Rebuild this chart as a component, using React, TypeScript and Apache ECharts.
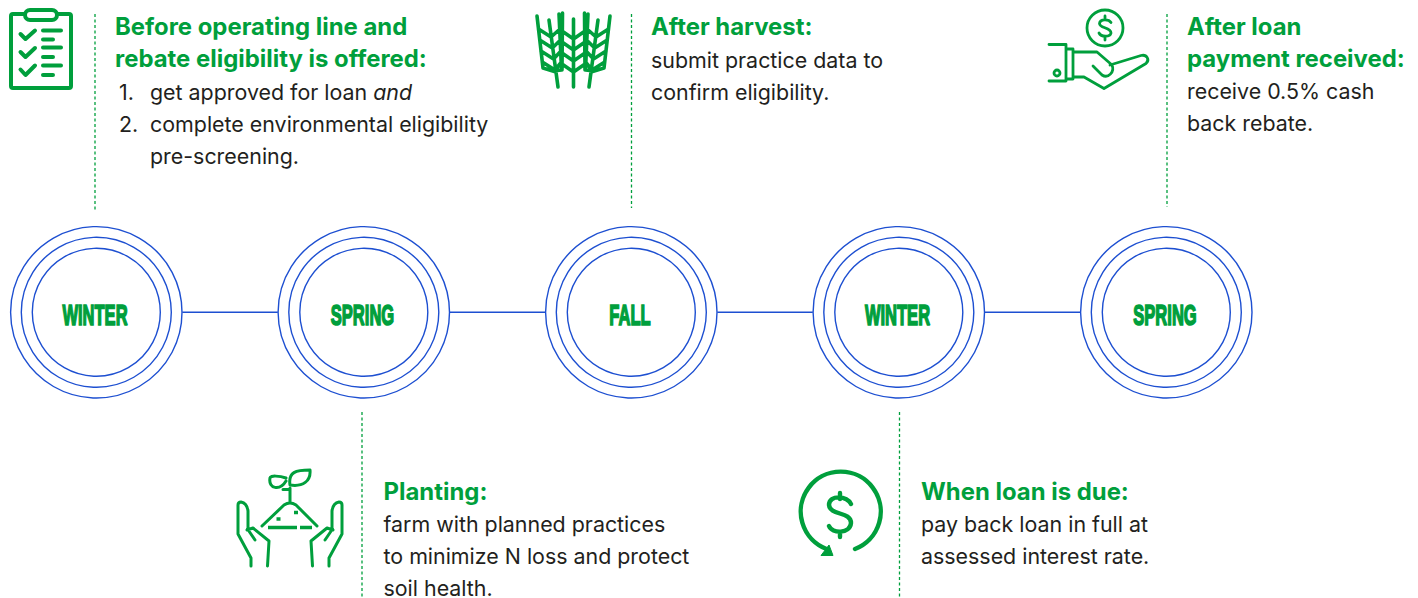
import React, { useEffect, useRef } from "react";
import * as echarts from "echarts";

const seasons = ["WINTER", "SPRING", "FALL", "WINTER", "SPRING"];
const GREEN = "#009f3c";
const BLUE = "#1d4fd1";
const FONT = "Inter, 'Open Sans', sans-serif";

type Line = { text: string; x: number; y: number; bold?: boolean };

const beforeLines: Line[] = [
  { text: "Before operating line and", x: 115, y: 26.5, bold: true },
  { text: "rebate eligibility is offered:", x: 115, y: 58.5, bold: true },
  { text: "1.", x: 119, y: 92 },
  { text: "2.", x: 119, y: 124 },
  { text: "complete environmental eligibility", x: 150, y: 124 },
  { text: "pre-screening.", x: 150, y: 156 },
];
const harvestLines: Line[] = [
  { text: "After harvest:", x: 651, y: 26.5, bold: true },
  { text: "submit practice data to", x: 651, y: 60 },
  { text: "confirm eligibility.", x: 651, y: 92 },
];
const rebateLines: Line[] = [
  { text: "After loan", x: 1187, y: 26.5, bold: true },
  { text: "payment received:", x: 1187, y: 58.5, bold: true },
  { text: "receive 0.5% cash", x: 1187, y: 91 },
  { text: "back rebate.", x: 1187, y: 123 },
];
const plantingLines: Line[] = [
  { text: "Planting:", x: 383.5, y: 491.5, bold: true },
  { text: "farm with planned practices", x: 383.5, y: 524 },
  { text: "to minimize N loss and protect", x: 383.5, y: 556 },
  { text: "soil health.", x: 383.5, y: 587.5 },
];
const dueLines: Line[] = [
  { text: "When loan is due:", x: 921, y: 491.5, bold: true },
  { text: "pay back loan in full at", x: 921, y: 524 },
  { text: "assessed interest rate.", x: 921, y: 556 },
];
const allLines = [...beforeLines, ...harvestLines, ...rebateLines, ...plantingLines, ...dueLines];

const dashes = [
  { x: 95, y1: 14, y2: 210 },
  { x: 631.5, y1: 14, y2: 208 },
  { x: 1167, y1: 14, y2: 207 },
  { x: 362, y1: 412, y2: 598 },
  { x: 899.5, y1: 412, y2: 598 },
];

const clipboardD =
  "M25 14L13 14Q11 14 11 16L11 86Q11 88 13 88L69 88Q71 88 71 86L71 16Q71 14 69 14L57 14 " +
  "M30 10L52 10A5 5 0 0 1 52 20L30 20A5 5 0 0 1 30 10Z " +
  "M20.5 34L25.5 39L35 30.5 M20.5 52L25.5 57L35 48 M20.5 69.500L25.500 75L35 65.500 " +
  "M43 30.500L61 30.500 M43 39.500L53 39.500 M43 47.500L61 47.500 M43 57L53 57 M43 65.500L61 65.500 M43 75L53 75";

const wheatD =
  "M537 16L543 68L556 72 M559 14L561.500 70L553 71 M562.500 13L562 70 " +
  "M610 16L604 68L591 72 M588 14L585.500 70L594 71 M584.500 13L585 70 " +
  "M558 87L549 20 M589 87L598 20 M573.500 87L573.500 19 " +
  "M538.500 29L551 37L560 29 M539.800 40L552.300 48L560.500 40 M541 51L553.500 59L561 51 M542.300 62L555 70L561.500 62 " +
  "M608.500 29L596 37L587 29 M607.200 40L594.700 48L586.500 40 M606 51L593.500 59L586 51 M604.700 62L592 70L585.500 62 " +
  "M562 31L573.500 39L585 31 M562 42L573.500 50L585 42 M562 53L573.500 61L585 53 M562 64L573.500 72L585 64";

const handD =
  "M1123 28A18 18 0 1 1 1087 28A18 18 0 1 1 1123 28Z " +
  "M1111 22.500C1109 19 1100 18.500 1099.500 23.500C1099.500 28.500 1111 27 1111 33C1110 37.500 1101 37 1099 33 M1105 16L1105 19 M1105 37L1105 40 " +
  "M1049 44.500L1066 44.500L1066 81L1049 81 M1066 49L1073 49L1073 79L1066 79 " +
  "M1073 52L1097 52L1112 65C1115 72 1108 79 1102 75L1093 66 " +
  "M1110 65L1141 55.500C1147 54 1150 60 1146 63.500L1104 88.500L1084 77L1073 77 " +
  "M1060 73A3 3 0 1 1 1054 73A3 3 0 1 1 1060 73Z";

const plantD =
  "M251 566L251 558L238 534L238 505Q238 502 241 502Q247 503 248 511L248 528 " +
  "M247 530L253 528L269 541L267.500 566 M247.500 529L255 540 " +
  "M329 566L329 558L342 534L342 505Q342 502 339 502Q333 503 332 511L332 528 " +
  "M333 530L327 528L311 541L312.500 566 M332.500 529L325 540 " +
  "M262 526L284 505Q290 501 296 505L317 526 " +
  "M290 503L290 488 M283 489.500L290 489.500 " +
  "M290 485C288 472 296 470 310 470C311 481 303 487 290 485Z " +
  "M286 478C280 476 270 475 270 478C268 489 280 491 286 481";

const plantBlocksD = "M268 527.500L297 527.500 M300 527.500L312 527.500 M276.500 519L280.500 519 M294 512.500L298 512.500";

const dollarD =
  "M855 549A40 40 0 1 0 826.500 549 " +
  "M851 504C848 496 829 494 829 505C830 516 851 511 851 523C850 534 832 534 829 526 " +
  "M840 493L840 499 M840 532L840 537";

const arrowD = "M821 555.500L833 555.500L829 545Z";

const textOf = (l: Line) => ({
  type: "text",
  x: l.x,
  y: l.y,
  style: {
    text: l.text,
    font: `${l.bold ? 700 : 400} ${l.bold ? 23.9 : 21.4}px ${FONT}`,
    lineHeight: 20,
    fill: l.bold ? GREEN : "#231f20",
    textVerticalAlign: "middle",
    textAlign: "left",
  },
});

export default function App() {
  const ref = useRef<HTMLDivElement>(null);
  useEffect(() => {
    document.body.style.margin = "0";
    echarts.graphic.registerShape("clipboard", echarts.graphic.extendPath(clipboardD, {}));
    echarts.graphic.registerShape("wheat", echarts.graphic.extendPath(wheatD, {}));
    echarts.graphic.registerShape("hand", echarts.graphic.extendPath(handD, {}));
    echarts.graphic.registerShape("plant", echarts.graphic.extendPath(plantD, {}));
    echarts.graphic.registerShape("plantBlocks", echarts.graphic.extendPath(plantBlocksD, {}));
    echarts.graphic.registerShape("dollar", echarts.graphic.extendPath(dollarD, {}));
    echarts.graphic.registerShape("arrowHead", echarts.graphic.extendPath(arrowD, {}));
    const chart = echarts.init(ref.current!, undefined, { renderer: "svg" });

    const elements: any[] = [];
    const centers = seasons.map((_, i) => 96.3 + i * 267.5);
    const cy = 312.3;
    centers.slice(0, -1).forEach((c) => {
      elements.push({
        type: "line",
        shape: { x1: c + 86, y1: cy, x2: c + 267.5 - 86, y2: cy },
        style: { stroke: BLUE, lineWidth: 1.4 },
      });
    });
    centers.forEach((c, i) => {
      [85.7, 75, 64].forEach((r) =>
        elements.push({
          type: "circle",
          shape: { cx: c, cy, r },
          style: { fill: "none", stroke: BLUE, lineWidth: 1.4 },
        })
      );
      elements.push({
        type: "text",
        x: c - 1.3,
        y: 315.5,
        scaleX: 0.57,
        style: {
          text: seasons[i],
          font: "700 29px 'Liberation Sans', sans-serif",
          fill: GREEN,
          stroke: GREEN,
          lineWidth: 1.7,
          textAlign: "center",
          textVerticalAlign: "middle",
        },
      });
    });
    dashes.forEach((d) =>
      elements.push({
        type: "line",
        shape: { x1: d.x, y1: d.y1, x2: d.x, y2: d.y2 },
        style: { stroke: GREEN, lineWidth: 1.3, lineDash: [3, 2.5] },
      })
    );
    allLines.forEach((l) => elements.push(textOf(l)));
    elements.push({
      type: "text",
      x: 150,
      y: 92,
      style: {
        text: "{a|get approved for loan }{b|and}",
        textVerticalAlign: "middle",
        textAlign: "left",
        rich: {
          a: { font: `400 21.4px ${FONT}`, fill: "#231f20", lineHeight: 20 },
          b: { font: `italic 400 21.4px ${FONT}`, fill: "#231f20", lineHeight: 20 },
        },
      },
    });
    const icon = (type: string, lineWidth: number) => ({
      type,
      x: 0,
      y: 0,
      style: { fill: "none", stroke: GREEN, lineWidth, lineCap: "round", lineJoin: "round" },
    });
    elements.push(icon("clipboard", 4));
    elements.push(icon("wheat", 3.6));
    elements.push(icon("hand", 2.8));
    elements.push(icon("plant", 3));
    elements.push({ ...icon("plantBlocks", 3.4), style: { fill: "none", stroke: GREEN, lineWidth: 3.4, lineCap: "butt" } });
    elements.push(icon("dollar", 4.4));
    elements.push({ type: "arrowHead", x: 0, y: 0, style: { fill: GREEN, stroke: GREEN, lineWidth: 1 } });

    chart.setOption({ animation: false, backgroundColor: "#fff", graphic: { elements } });
    return () => chart.dispose();
  }, []);
  return <div ref={ref} style={{ width: 1418, height: 598 }} />;
}
